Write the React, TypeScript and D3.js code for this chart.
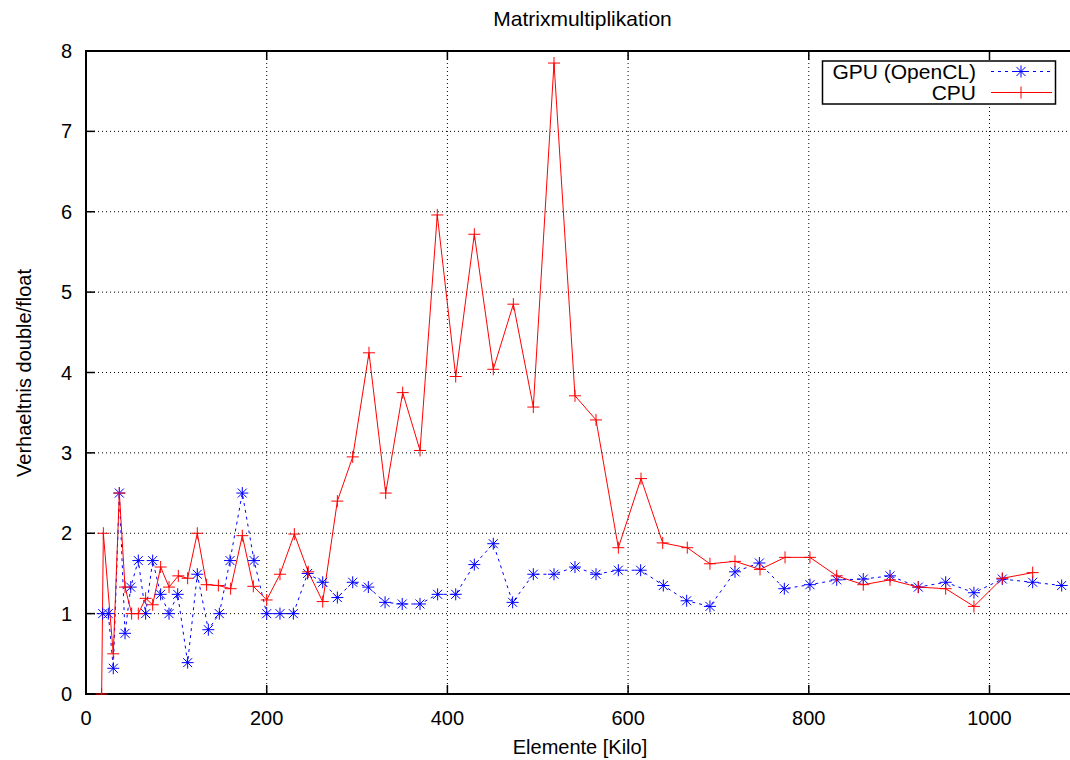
import React from "react";
import * as d3 from "d3";

const gpuX = [18.5, 24.7, 30.2, 36.9, 43.2, 49.5, 57.9, 66, 73.8, 82.6, 91.9, 101.5, 112.5, 123.2, 135.4, 147.6, 159.4, 173, 186, 200, 214.7, 229.5, 245.3, 262, 278.2, 295.2, 312.5, 331, 350, 369.7, 389.2, 409.2, 429.8, 450.8, 472.2, 495.1, 518, 541.2, 564.5, 589.2, 613.9, 639, 664.8, 690.6, 718.3, 745.3, 772.9, 801.3, 830.9, 860.3, 889.9, 921.2, 951.5, 982.8, 1014.2, 1047.8, 1079.9];
const gpuY = [1.0, 1.0, 0.32, 2.5, 0.755, 1.33, 1.66, 1.0, 1.66, 1.24, 1.0, 1.24, 0.39, 1.49, 0.8, 1.0, 1.66, 2.5, 1.66, 1.0, 1.0, 1.0, 1.5, 1.39, 1.2, 1.39, 1.33, 1.14, 1.12, 1.12, 1.24, 1.24, 1.61, 1.87, 1.14, 1.49, 1.49, 1.58, 1.49, 1.54, 1.54, 1.35, 1.16, 1.09, 1.52, 1.63, 1.31, 1.36, 1.42, 1.43, 1.47, 1.33, 1.39, 1.26, 1.43, 1.39, 1.35];

const cpuX = [17.3, 19.2, 30.2, 36.9, 43.2, 50.5, 57.9, 66, 73.8, 82.6, 91.9, 102.2, 112.5, 123.2, 133.5, 146.5, 160.1, 173, 185.2, 200, 214.7, 230.6, 246, 262, 278.2, 295.2, 313.2, 331.7, 350.5, 369.7, 388.8, 409.2, 429.8, 450.8, 473, 495.1, 518, 541.2, 564.5, 589.2, 614.3, 638.3, 665.5, 690.6, 718.3, 746, 773.7, 801.3, 830.9, 860.3, 889.9, 921.2, 951.5, 982.8, 1014.2, 1047.8];
const cpuY = [0, 2.0, 0.5, 2.5, 1.33, 1.0, 1.0, 1.19, 1.11, 1.58, 1.33, 1.47, 1.44, 2.0, 1.36, 1.35, 1.31, 1.97, 1.34, 1.17, 1.49, 1.99, 1.52, 1.15, 2.4, 2.95, 4.245, 2.5, 3.75, 3.03, 5.96, 3.95, 5.72, 4.04, 4.85, 3.57, 7.85, 3.71, 3.41, 1.82, 2.68, 1.88, 1.82, 1.62, 1.65, 1.55, 1.7, 1.7, 1.47, 1.36, 1.42, 1.33, 1.31, 1.09, 1.44, 1.51];

const xTicks = [0, 200, 400, 600, 800, 1000];
const yTicks = [0, 1, 2, 3, 4, 5, 6, 7, 8];

const title = "Matrixmultiplikation";
const xTitle = "Elemente [Kilo]";
const yTitle = "Verhaeltnis double/float";
const gpuLabel = "GPU (OpenCL)";
const cpuLabel = "CPU";

const W = 1070, H = 760;
const L = 86, R = 1069, T = 51, B = 694;
const FONT = "'Liberation Sans', Arial, Helvetica, sans-serif";
const BLUE = "#0000ff";
const RED = "#ff0000";

function Star({ x, y, s = 6 }: { x: number; y: number; s?: number }) {
  const d = s * 0.75;
  return (
    <path
      d={`M${x - s},${y}H${x + s}M${x},${y - s}V${y + s}M${x - d},${y - d}L${x + d},${y + d}M${x - d},${y + d}L${x + d},${y - d}`}
      stroke={BLUE}
      strokeWidth={1}
      fill="none"
    />
  );
}

function Plus({ x, y, s = 6 }: { x: number; y: number; s?: number }) {
  return (
    <path d={`M${x - s},${y}H${x + s}M${x},${y - s}V${y + s}`} stroke={RED} strokeWidth={1} fill="none" />
  );
}

export default function App() {
  const xs = d3.scaleLinear().domain([0, 1088]).range([L, R]);
  const ys = d3.scaleLinear().domain([0, 8]).range([B, T]);

  const gpu = gpuX.map((x, i) => [x, gpuY[i]] as [number, number]);
  const cpu = cpuX.map((x, i) => [x, cpuY[i]] as [number, number]);
  const line = d3.line<[number, number]>().x((d) => xs(d[0])).y((d) => ys(d[1]));

  return (
    <div style={{ position: "absolute", left: 0, top: 0 }}>
      <svg width={W} height={H} style={{ display: "block", background: "#fff" }} fontFamily={FONT}>
        <defs>
          <clipPath id="plot">
            <rect x={L} y={T} width={R - L + 10} height={B - T + 1} />
          </clipPath>
        </defs>
        {/* grid */}
        {xTicks.slice(1).map((t) => (
          <line key={"gx" + t} x1={xs(t)} x2={xs(t)} y1={T} y2={B} stroke="#000" strokeWidth={1} strokeDasharray="1,3" />
        ))}
        {yTicks.slice(1, -1).map((t) => (
          <line key={"gy" + t} x1={L} x2={W} y1={ys(t)} y2={ys(t)} stroke="#000" strokeWidth={1} strokeDasharray="1,3" />
        ))}
        {/* ticks */}
        {xTicks.map((t) => (
          <g key={"tx" + t}>
            <line x1={xs(t)} x2={xs(t)} y1={B} y2={B - 9} stroke="#000" strokeWidth={1.5} />
            <line x1={xs(t)} x2={xs(t)} y1={T} y2={T + 9} stroke="#000" strokeWidth={1.5} />
            <text x={xs(t)} y={725} textAnchor="middle" fontSize={20}>{t}</text>
          </g>
        ))}
        {yTicks.map((t) => (
          <g key={"ty" + t}>
            <line x1={L} x2={L + 9} y1={ys(t)} y2={ys(t)} stroke="#000" strokeWidth={1.5} />
            <text x={72} y={ys(t) + 7} textAnchor="end" fontSize={20}>{t}</text>
          </g>
        ))}
        {/* frame */}
        <path d={`M${W + 2},${T}H${L}V${B}H${W + 2}`} fill="none" stroke="#000" strokeWidth={2} />
        {/* data */}
        <g clipPath="url(#plot)">
          <path d={line(gpu) || ""} fill="none" stroke={BLUE} strokeWidth={1} strokeDasharray="3,4" />
          <path d={line(cpu) || ""} fill="none" stroke={RED} strokeWidth={1} />
          {gpu.map((d, i) => (
            <Star key={"s" + i} x={xs(d[0])} y={ys(d[1])} />
          ))}
          {cpu.map((d, i) => (
            <Plus key={"p" + i} x={xs(d[0])} y={ys(d[1])} />
          ))}
        </g>
        {/* legend */}
        <rect x={822.5} y={61} width={233} height={43} fill="#fff" stroke="#000" strokeWidth={1.5} />
        <text x={976} y={79} textAnchor="end" fontSize={21}>{gpuLabel}</text>
        <text x={976} y={100} textAnchor="end" fontSize={21}>{cpuLabel}</text>
        <line x1={991} x2={1052} y1={71.5} y2={71.5} stroke={BLUE} strokeWidth={1} strokeDasharray="3,4" />
        <Star x={1021} y={71.5} />
        <line x1={991} x2={1052} y1={92.5} y2={92.5} stroke={RED} strokeWidth={1} />
        <Plus x={1021} y={92.5} />
        {/* titles */}
        <text x={582.5} y={26} textAnchor="middle" fontSize={21}>{title}</text>
        <text x={580} y={754} textAnchor="middle" fontSize={20}>{xTitle}</text>
        <text transform={`translate(31,373) rotate(-90)`} textAnchor="middle" fontSize={20}>{yTitle}</text>
      </svg>
    </div>
  );
}
